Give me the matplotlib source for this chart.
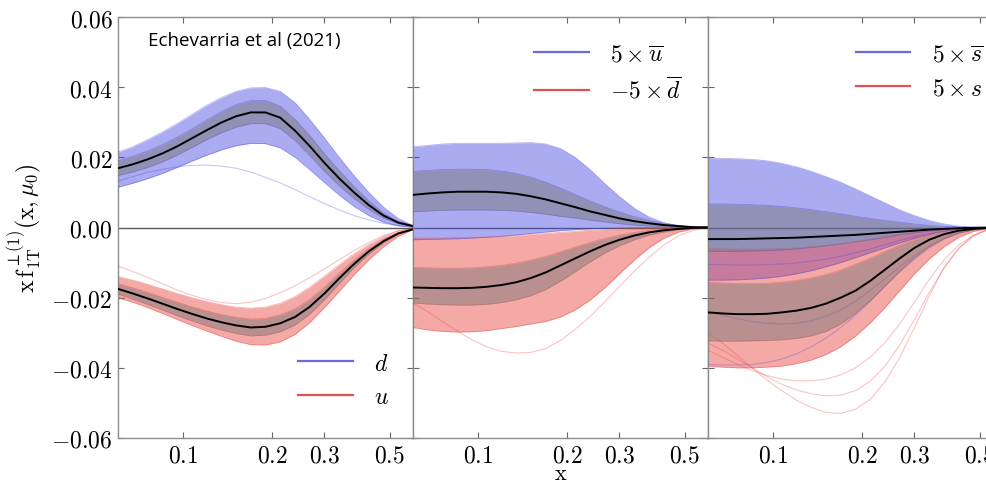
import matplotlib
matplotlib.use("Agg")
import matplotlib.pyplot as plt
from matplotlib.lines import Line2D

plt.rcParams['mathtext.fontset'] = 'cm'
plt.rcParams['font.family'] = ['DejaVu Serif']

# x grid (log spaced, read points)
x = [0.0600, 0.0673, 0.0755, 0.0848, 0.0951, 0.1067, 0.1197, 0.1343, 0.1507, 0.1691,
     0.1897, 0.2129, 0.2389, 0.2680, 0.3007, 0.3374, 0.3786, 0.4248, 0.4766, 0.5348, 0.6000]

# --- panel 1 : d (blue) and u (red)
d_c = [.0169, .0180, .0194, .0211, .0231, .0254, .0277, .0299, .0317, .0328, .0328, .0313,
       .0276, .0232, .0184, .0140, .0100, .0064, .0034, .0014, .0004]
d_band_hi = [.0190, .0203, .0218, .0236, .0257, .0281, .0306, .0330, .0350, .0362, .0362, .0346,
             .0308, .0262, .0210, .0162, .0117, .0076, .0041, .0017, .0005]
d_band_lo = [.0148, .0158, .0171, .0187, .0206, .0228, .0250, .0270, .0286, .0296, .0296, .0282,
             .0248, .0205, .0160, .0119, .0083, .0052, .0027, .0011, .0003]
d_env_hi = [.0215, .0230, .0250, .0272, .0296, .0322, .0348, .0370, .0388, .0398, .0399, .0388,
            .0356, .0308, .0255, .0200, .0148, .0100, .0058, .0026, .0006]
d_env_lo = [.0115, .0126, .0139, .0154, .0171, .0189, .0206, .0221, .0233, .0240, .0239, .0227,
            .0200, .0165, .0128, .0092, .0060, .0034, .0015, .0005, .0001]
d_out = [[.0132, .0145, .0157, .0166, .0173, .0177, .0178, .0175, .0169, .0158, .0143, .0127,
          .0108, .0088, .0068, .0050, .0034, .0022, .0012, .0005, .0001]]

u_c = [-.0175, -.0188, -.0202, -.0217, -.0232, -.0246, -.0259, -.0270, -.0279, -.0285, -.0283,
       -.0273, -.0255, -.0226, -.0188, -.0145, -.0104, -.0068, -.0039, -.0017, -.0005]
u_band_hi = [-.0160, -.0172, -.0185, -.0199, -.0213, -.0226, -.0238, -.0248, -.0256, -.0261, -.0259,
             -.0249, -.0232, -.0205, -.0170, -.0130, -.0093, -.0060, -.0034, -.0015, -.0004]
u_band_lo = [-.0190, -.0204, -.0219, -.0235, -.0251, -.0266, -.0280, -.0292, -.0302, -.0309, -.0307,
             -.0297, -.0278, -.0247, -.0206, -.0160, -.0115, -.0076, -.0044, -.0019, -.0006]
u_env_hi = [-.0140, -.0150, -.0162, -.0175, -.0188, -.0200, -.0211, -.0220, -.0227, -.0230, -.0227,
            -.0216, -.0197, -.0170, -.0139, -.0106, -.0075, -.0048, -.0026, -.0010, -.0002]
u_env_lo = [-.0200, -.0213, -.0228, -.0245, -.0262, -.0279, -.0295, -.0310, -.0324, -.0334, -.0335,
            -.0326, -.0305, -.0271, -.0228, -.0182, -.0135, -.0092, -.0055, -.0025, -.0006]
u_out = [[-.0110, -.0125, -.0142, -.0160, -.0178, -.0193, -.0205, -.0214, -.0217, -.0213, -.0202,
          -.0186, -.0166, -.0143, -.0118, -.0092, -.0066, -.0043, -.0023, -.0009, -.0002]]

# --- panel 2 : 5 x ubar (blue) and -5 x dbar (red)
ub_c = [.0093, .0097, .0100, .0102, .0102, .0102, .0100, .0096, .0089, .0080, .0069, .0058,
        .0046, .0036, .0026, .0018, .0012, .0007, .0004, .0001, 0.0]
ub_band_hi = [.0160, .0163, .0165, .0166, .0166, .0165, .0161, .0154, .0143, .0129, .0112, .0094,
              .0076, .0059, .0044, .0031, .0020, .0012, .0006, .0002, 0.0]
ub_band_lo = [.0045, .0047, .0049, .0050, .0050, .0050, .0049, .0047, .0043, .0038, .0032, .0027,
              .0021, .0016, .0011, .0007, .0004, .0002, .0001, 0.0, 0.0]
ub_env_hi = [.0230, .0234, .0238, .0240, .0240, .0240, .0240, .0241, .0242, .0238, .0225, .0200,
             .0165, .0125, .0088, .0055, .0030, .0014, .0005, .0001, 0.0]
ub_env_lo = [-.0035, -.0034, -.0033, -.0032, -.0030, -.0028, -.0025, -.0021, -.0017, -.0013, -.0009,
             -.0006, -.0004, -.0002, -.0001, 0.0, 0.0, 0.0, 0.0, 0.0, 0.0]
ub_out = []

db_c = [-.0171, -.0172, -.0173, -.0173, -.0172, -.0169, -.0164, -.0156, -.0144, -.0128, -.0108,
        -.0088, -.0068, -.0050, -.0035, -.0023, -.0014, -.0008, -.0004, -.0001, 0.0]
db_band_hi = [-.0114, -.0115, -.0116, -.0116, -.0115, -.0112, -.0108, -.0102, -.0093, -.0082, -.0069,
              -.0056, -.0043, -.0031, -.0022, -.0014, -.0008, -.0004, -.0002, -.0001, 0.0]
db_band_lo = [-.0215, -.0218, -.0220, -.0221, -.0221, -.0219, -.0214, -.0206, -.0194, -.0177, -.0153,
              -.0126, -.0098, -.0073, -.0052, -.0035, -.0022, -.0013, -.0006, -.0002, 0.0]
db_env_hi = [-.0030, -.0030, -.0030, -.0029, -.0028, -.0027, -.0025, -.0023, -.0020, -.0017, -.0014,
             -.0011, -.0008, -.0006, -.0004, -.0002, -.0001, 0.0, 0.0, 0.0, 0.0]
db_env_lo = [-.0285, -.0292, -.0296, -.0298, -.0297, -.0294, -.0288, -.0282, -.0275, -.0268, -.0255,
             -.0235, -.0207, -.0172, -.0132, -.0093, -.0058, -.0031, -.0013, -.0004, 0.0]
db_out = [[-.0215, -.0240, -.0268, -.0295, -.0320, -.0340, -.0353, -.0358, -.0356, -.0345, -.0322,
           -.0290, -.0254, -.0212, -.0168, -.0125, -.0085, -.0050, -.0024, -.0008, 0.0]]

# --- panel 3 : 5 x sbar (blue) and 5 x s (red)
sb_c = [-.0033, -.0033, -.0033, -.0032, -.0031, -.0030, -.0029, -.0027, -.0025, -.0023, -.0021,
        -.0018, -.0015, -.0012, -.0009, -.0006, -.0004, -.0002, -.0001, 0.0, 0.0]
sb_band_hi = [.0067, .0067, .0066, .0065, .0063, .0060, .0056, .0051, .0045, .0039, .0032, .0026,
              .0020, .0015, .0010, .0006, .0003, .0002, .0001, 0.0, 0.0]
sb_band_lo = [-.0068, -.0068, -.0068, -.0067, -.0066, -.0064, -.0061, -.0057, -.0052, -.0047, -.0041,
              -.0035, -.0028, -.0021, -.0015, -.0010, -.0006, -.0003, -.0001, 0.0, 0.0]
sb_env_hi = [.0197, .0197, .0196, .0194, .0190, .0183, .0173, .0160, .0145, .0129, .0110, .0090,
             .0070, .0050, .0034, .0020, .0010, .0004, .0001, 0.0, 0.0]
sb_env_lo = [-.0150, -.0150, -.0149, -.0147, -.0144, -.0139, -.0132, -.0123, -.0112, -.0100, -.0086,
             -.0072, -.0058, -.0044, -.0031, -.0020, -.0011, -.0005, -.0002, 0.0, 0.0]
sb_out = [
    [-.0390, -.0392, -.0392, -.0390, -.0385, -.0375, -.0360, -.0340, -.0315, -.0285, -.0250,
     -.0210, -.0168, -.0127, -.0090, -.0058, -.0033, -.0016, -.0006, -.0001, 0.0],
    [-.0240, -.0250, -.0260, -.0268, -.0273, -.0275, -.0273, -.0266, -.0253, -.0235, -.0210,
     -.0180, -.0146, -.0112, -.0080, -.0052, -.0030, -.0015, -.0006, -.0001, 0.0],
    [-.0105, -.0106, -.0107, -.0107, -.0106, -.0104, -.0101, -.0096, -.0090, -.0082, -.0072,
     -.0061, -.0049, -.0037, -.0026, -.0017, -.0010, -.0005, -.0002, 0.0, 0.0],
]

s_c = [-.0242, -.0245, -.0247, -.0247, -.0246, -.0242, -.0237, -.0229, -.0217, -.0200, -.0180,
       -.0152, -.0120, -.0088, -.0058, -.0035, -.0019, -.0009, -.0004, -.0001, 0.0]
s_band_hi = [-.0156, -.0158, -.0160, -.0160, -.0159, -.0156, -.0151, -.0144, -.0134, -.0121, -.0105,
             -.0087, -.0068, -.0050, -.0034, -.0021, -.0012, -.0006, -.0002, -.0001, 0.0]
s_band_lo = [-.0323, -.0324, -.0324, -.0323, -.0322, -.0320, -.0316, -.0309, -.0296, -.0275, -.0245,
             -.0208, -.0166, -.0124, -.0086, -.0055, -.0032, -.0016, -.0007, -.0002, 0.0]
s_env_hi = [-.0060, -.0061, -.0062, -.0062, -.0061, -.0060, -.0058, -.0055, -.0051, -.0046, -.0040,
            -.0033, -.0026, -.0019, -.0013, -.0008, -.0004, -.0002, -.0001, 0.0, 0.0]
s_env_lo = [-.0395, -.0398, -.0400, -.0400, -.0398, -.0395, -.0388, -.0378, -.0362, -.0340, -.0310,
            -.0272, -.0228, -.0180, -.0132, -.0090, -.0055, -.0028, -.0011, -.0003, 0.0]
s_out = [
    [-.0300, -.0330, -.0365, -.0400, -.0435, -.0465, -.0492, -.0513, -.0527, -.0530, -.0518,
     -.0490, -.0440, -.0370, -.0285, -.0195, -.0115, -.0058, -.0022, -.0005, 0.0],
    [-.0330, -.0350, -.0375, -.0400, -.0425, -.0447, -.0463, -.0474, -.0480, -.0478, -.0465,
     -.0438, -.0395, -.0335, -.0262, -.0185, -.0115, -.0060, -.0025, -.0006, 0.0],
    [-.0350, -.0370, -.0390, -.0408, -.0422, -.0432, -.0437, -.0437, -.0432, -.0420, -.0400,
     -.0370, -.0328, -.0275, -.0212, -.0148, -.0092, -.0050, -.0022, -.0006, 0.0],
]

yticks = [-0.06, -0.04, -0.02, 0.00, 0.02, 0.04, 0.06]
xticks = [0.1, 0.2, 0.3, 0.5]

BLUE = '#4646e0'
RED = '#e8403a'


def draw_flavour(ax, c, band_lo, band_hi, env_lo, env_hi, outliers, color):
    ax.fill_between(x, env_lo, env_hi, color=color, alpha=0.45, lw=0, zorder=2)
    for y in (env_lo, env_hi, band_lo, band_hi):
        ax.plot(x, y, color=color, lw=0.6, alpha=0.4, zorder=3)
    for y in outliers:
        ax.plot(x, y, color=color, lw=0.8, alpha=0.3, zorder=3)
    ax.fill_between(x, band_lo, band_hi, color='0.45', alpha=0.45, lw=0, zorder=4)
    ax.plot(x, c, color='black', lw=1.4, zorder=6)


fig = plt.figure(figsize=(9.86, 4.85), dpi=100)
W, H = 986, 485
axes = []
for i in range(3):
    ax = fig.add_axes([(118 + 295 * i) / W, 46 / H, 295 / W, 421 / H])
    axes.append(ax)

draw_flavour(axes[0], d_c, d_band_lo, d_band_hi, d_env_lo, d_env_hi, d_out, BLUE)
draw_flavour(axes[0], u_c, u_band_lo, u_band_hi, u_env_lo, u_env_hi, u_out, RED)
draw_flavour(axes[1], ub_c, ub_band_lo, ub_band_hi, ub_env_lo, ub_env_hi, ub_out, BLUE)
draw_flavour(axes[1], db_c, db_band_lo, db_band_hi, db_env_lo, db_env_hi, db_out, RED)
draw_flavour(axes[2], sb_c, sb_band_lo, sb_band_hi, sb_env_lo, sb_env_hi, sb_out, BLUE)
draw_flavour(axes[2], s_c, s_band_lo, s_band_hi, s_env_lo, s_env_hi, s_out, RED)

legends = [
    (['$d$', '$u$'], 'lower right', (0.99, 0.02)),
    (['$5\\times\\overline{u}$', '$-5\\times\\overline{d}$'], 'upper right', (0.98, 0.99)),
    (['$5\\times\\overline{s}$', '$5\\times s$'], 'upper left', (0.43, 0.99)),
]

for i, ax in enumerate(axes):
    ax.axhline(0, color='0.35', lw=1, zorder=1)
    ax.set_xscale('log')
    ax.set_xlim(0.06, 0.6)
    ax.set_ylim(-0.06, 0.06)
    ax.set_xticks(xticks)
    ax.set_xticklabels(['$%g$' % v for v in xticks])
    ax.xaxis.set_minor_locator(matplotlib.ticker.NullLocator())
    ax.set_yticks(yticks)
    if i == 0:
        ax.set_yticklabels(['$%.2f$' % v for v in yticks])
    else:
        ax.set_yticklabels([])
    ax.tick_params(direction='in', length=4, width=0.8, color='0.4',
                   top=True, right=True, labelsize=17, pad=4)
    for sp in ax.spines.values():
        sp.set_color('0.55')
        sp.set_linewidth(1.0)
    labels, loc, anchor = legends[i]
    handles = [Line2D([], [], color='#6a6ad8', lw=1.6),
               Line2D([], [], color='#e25050', lw=1.6)]
    ax.legend(handles, labels, loc=loc, bbox_to_anchor=anchor, frameon=False,
              fontsize=17, handlelength=2.3, handletextpad=0.9, labelspacing=0.45)

axes[0].set_ylabel(r'$\mathrm{x\,f}_{\mathrm{1T}}^{\perp(1)}(\mathrm{x},\mu_0)$', fontsize=17)
axes[0].yaxis.set_label_coords(-0.25, 0.5)
axes[0].text(0.1, 0.945, 'Echevarria et al (2021)', transform=axes[0].transAxes,
             family='Open Sans', fontsize=13.5, va='center', ha='left')
fig.text(561 / W, 1 - 480 / H, r'$\mathrm{x}$', fontsize=16, ha='center', va='baseline')

fig.savefig('out.png', dpi=100)
